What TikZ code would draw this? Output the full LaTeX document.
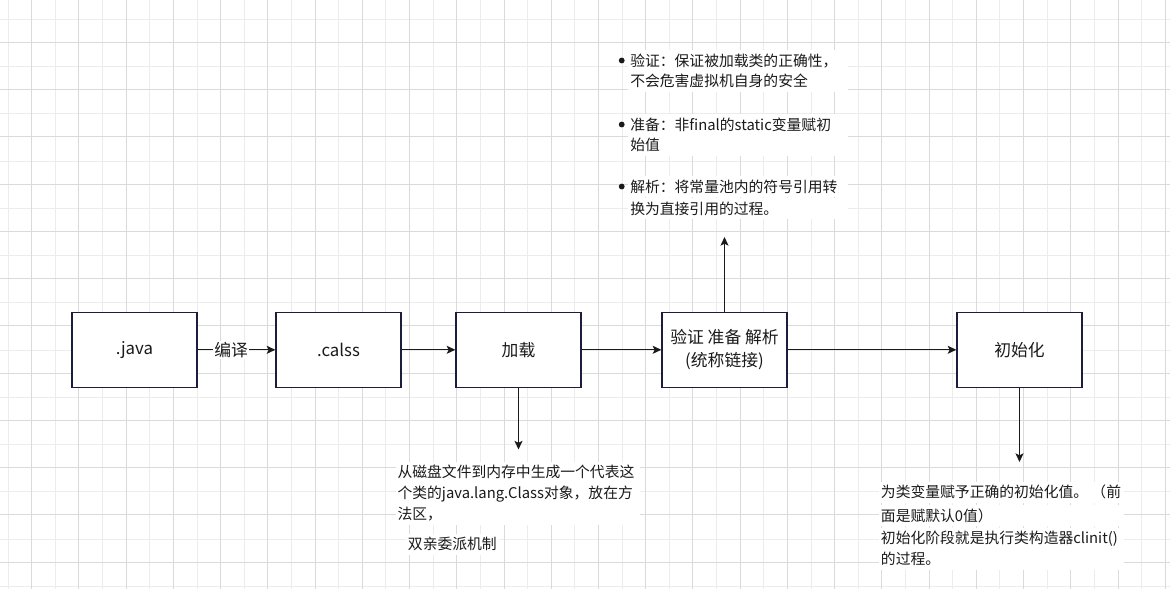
\documentclass[tikz,border=0pt]{standalone}
\usepackage{fontspec}
\setmainfont{Noto Sans CJK SC}
\usetikzlibrary{arrows.meta}
\definecolor{gridlight}{HTML}{ECECEC}
\definecolor{griddark}{HTML}{DADADA}
\definecolor{boxline}{HTML}{1C1C3C}
\definecolor{ink}{HTML}{1A1A1A}
\begin{document}
\begin{tikzpicture}[x=0.75pt,y=-0.75pt,
  box/.style={draw=boxline,line width=1pt,fill=white,minimum width=93.75pt,minimum height=56.25pt,inner sep=0pt,font=\fontsize{12.6pt}{17.25pt}\selectfont,text=ink,align=center},
  conn/.style={draw=ink,line width=1pt,-{Stealth[length=6.5pt,width=6pt,inset=1.5pt]}},
  lbl/.style={fill=white,inner xsep=1pt,inner ysep=1pt,font=\fontsize{12.6pt}{15pt}\selectfont,text=ink},
  note/.style={anchor=west,fill=white,inner xsep=1.5pt,inner ysep=0pt,minimum height=15.75pt,text height=9.7pt,text depth=1.4pt,font=\fontsize{11.1pt}{14pt}\selectfont,text=ink},
  bullet/.style={circle,fill=ink,inner sep=0pt,minimum size=4.4pt},
  gl/.style={draw=gridlight,line width=0.75pt},
  gd/.style={draw=griddark,line width=0.75pt}
]
\useasboundingbox (0,0) rectangle (1170,589);
\fill[white] (0,0) rectangle (1170,589);
% grid
\foreach \i in {0,...,24}{\draw[gl] ({8.1+47.23*\i},0) -- ({8.1+47.23*\i},589);}
\foreach \j in {0,...,12}{\draw[gl] (0,{19.3+47.25*\j}) -- (1170,{19.3+47.25*\j});}
\foreach \i in {0,...,24}{\draw[gd] ({31.7+47.23*\i},0) -- ({31.7+47.23*\i},589);}
\foreach \j in {0,...,11}{\draw[gd] (0,{42.3+47.25*\j}) -- (1170,{42.3+47.25*\j});}

% boxes
\node[box] (java) at (134.5,349.8) {.java};
\node[box] (class) at (338.5,349.8) {.calss};
\node[box] (load) at (518.5,349.8) {加载};
\node[box] (link) at (724.5,349.8) {验证 准备 解析\\(统称链接)};
\node[box] (init) at (1019.5,349.8) {初始化};

% free ends
\coordinate (upEnd) at (724.5,237);
\coordinate (loadEnd) at (518.5,449.5);
\coordinate (initEnd) at (1019.5,462);

% connectors
\draw[conn] (java) -- (class) node[lbl,pos=0.43] (bianyi) {编译};
\draw[conn] (class) -- (load);
\draw[conn] (load) -- (link);
\draw[conn] (link) -- (init);
\draw[conn] (link.north) -- (upEnd);
\draw[conn] (load.south) -- (loadEnd);
\draw[conn] (init.south) -- (initEnd);

% top notes
\node[note] (v1) at (628,60.5) {\makebox[162pt][l]{验证：保证被加载类的正确性，}};
\node[note] (v2) at (628,81) {\makebox[162pt][l]{不会危害虚拟机自身的安全}};
\node[note] (p1) at (628,124.5) {\makebox[162pt][l]{准备：非final的static变量赋初}};
\node[note] (p2) at (628,145) {\makebox[162pt][l]{始值}};
\node[note] (j1) at (628,186.5) {\makebox[162pt][l]{解析：将常量池内的符号引用转}};
\node[note] (j2) at (628,208.5) {\makebox[162pt][l]{换为直接引用的过程。}};
\node[bullet] (b1) at (621.7,60.5) {};
\node[bullet] (b2) at (621.7,124.5) {};
\node[bullet] (b3) at (621.7,186.5) {};

% load notes
\node[note] (l1) at (395.3,472.3) {\makebox[180pt][l]{从磁盘文件到内存中生成一个代表这}};
\node[note] (l2) at (395.3,493.3) {\makebox[180pt][l]{个类的java.lang.Class对象，放在方}};
\node[note] (l3) at (395.3,514) {\makebox[180pt][l]{法区，}};
\node[note] (l4) at (405.7,544) {双亲委派机制};

% init notes
\node[note] (i1) at (878.7,492.3) {\makebox[181pt][l]{为类变量赋予正确的初始化值。 （前}};
\node[note] (i2) at (878.7,515.5) {\makebox[181pt][l]{面是赋默认0值）}};
\node[note] (i3) at (878.7,538.3) {\makebox[181pt][l]{初始化阶段就是执行类构造器clinit()}};
\node[note] (i4) at (878.7,559.3) {\makebox[181pt][l]{的过程。}};
\end{tikzpicture}
\end{document}
